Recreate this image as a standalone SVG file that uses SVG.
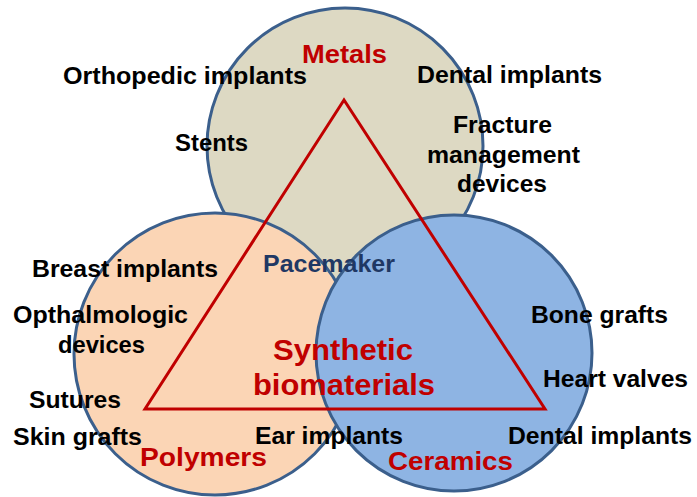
<svg xmlns="http://www.w3.org/2000/svg" width="697" height="497" viewBox="0 0 697 497">
<style>
.circ{stroke:#3B5F8C;stroke-width:3}
.lbl{font-family:"Liberation Sans",Arial,sans-serif;font-weight:bold;font-size:24px;fill:#000}
.cat{font-family:"Liberation Sans",Arial,sans-serif;font-weight:bold;font-size:26px;fill:#C00000}
.big{font-family:"Liberation Sans",Arial,sans-serif;font-weight:bold;font-size:30px;fill:#C00000}
.pm{fill:#1F3864}
.tri{fill:none;stroke:#C00000;stroke-width:3;stroke-linejoin:miter}
</style>
<rect width="697" height="497" fill="#fff"/>
<g id="metals">
<circle class="circ" cx="345" cy="146" r="138" fill="#DDD9C3"/>
</g>
<g id="polymers">
<circle class="circ" cx="215" cy="354" r="141" fill="#FBD5B5"/>
</g>
<g id="ceramics">
<circle class="circ" cx="454" cy="353" r="138" fill="#8EB4E3"/>
</g>
<g id="connectors">
<polygon class="tri" points="344,100 145,409 545,409"/>
</g>
<g id="labels-metals">
<text class="cat" x="302" y="63" textLength="85" lengthAdjust="spacingAndGlyphs">Metals</text>
<text class="lbl" x="63" y="84" textLength="244" lengthAdjust="spacingAndGlyphs">Orthopedic implants</text>
<text class="lbl" x="175" y="151" textLength="73" lengthAdjust="spacingAndGlyphs">Stents</text>
<text class="lbl" x="417" y="83" textLength="185" lengthAdjust="spacingAndGlyphs">Dental implants</text>
<text class="lbl" x="453" y="133" textLength="99" lengthAdjust="spacingAndGlyphs">Fracture</text>
<text class="lbl" x="427" y="163" textLength="153" lengthAdjust="spacingAndGlyphs">management</text>
<text class="lbl" x="457" y="192" textLength="90" lengthAdjust="spacingAndGlyphs">devices</text>
</g>
<g id="labels-center">
<text class="lbl pm" x="263" y="272" textLength="132" lengthAdjust="spacingAndGlyphs">Pacemaker</text>
<text class="big" x="273" y="360" textLength="140" lengthAdjust="spacingAndGlyphs">Synthetic</text>
<text class="big" x="253" y="395" textLength="182" lengthAdjust="spacingAndGlyphs">biomaterials</text>
</g>
<g id="labels-polymers">
<text class="lbl" x="32" y="277" textLength="186" lengthAdjust="spacingAndGlyphs">Breast implants</text>
<text class="lbl" x="13" y="323" textLength="175" lengthAdjust="spacingAndGlyphs">Opthalmologic</text>
<text class="lbl" x="58" y="353" textLength="87" lengthAdjust="spacingAndGlyphs">devices</text>
<text class="lbl" x="29" y="408" textLength="92" lengthAdjust="spacingAndGlyphs">Sutures</text>
<text class="lbl" x="13" y="445" textLength="129" lengthAdjust="spacingAndGlyphs">Skin grafts</text>
<text class="lbl" x="255" y="444" textLength="148" lengthAdjust="spacingAndGlyphs">Ear implants</text>
<text class="cat" x="140" y="466" textLength="127" lengthAdjust="spacingAndGlyphs">Polymers</text>
</g>
<g id="labels-ceramics">
<text class="lbl" x="531" y="323" textLength="137" lengthAdjust="spacingAndGlyphs">Bone grafts</text>
<text class="lbl" x="543" y="387" textLength="145" lengthAdjust="spacingAndGlyphs">Heart valves</text>
<text class="lbl" x="508" y="444" textLength="184" lengthAdjust="spacingAndGlyphs">Dental implants</text>
<text class="cat" x="388" y="470" textLength="125" lengthAdjust="spacingAndGlyphs">Ceramics</text>
</g>
</svg>
